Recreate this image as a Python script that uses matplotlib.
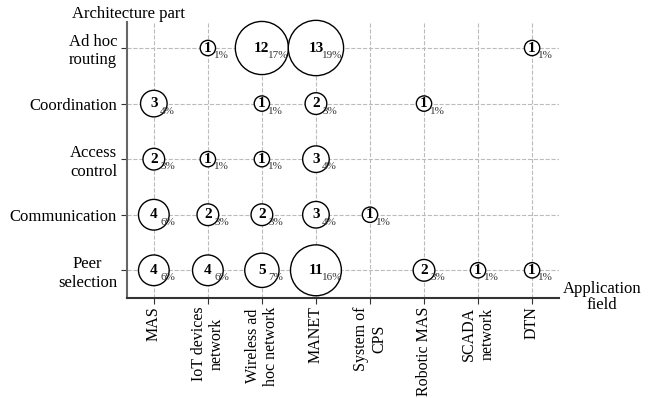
import matplotlib
matplotlib.use("Agg")
import matplotlib.pyplot as plt
import numpy as np

plt.rcParams['font.family'] = ['Liberation Serif', 'DejaVu Serif']

fields = ["MAS", "IoT devices\nnetwork", "Wireless ad\nhoc network", "MANET",
          "System of\nCPS", "Robotic MAS", "SCADA\nnetwork", "DTN"]
parts = ["Peer\nselection", "Communication", "Access\ncontrol", "Coordination",
         "Ad hoc\nrouting"]

# rows follow parts (bottom to top), columns follow fields
counts = [
    [4, 4, 5, 11, 0, 2, 1, 1],
    [4, 2, 2, 3, 1, 0, 0, 0],
    [2, 1, 1, 3, 0, 0, 0, 0],
    [3, 0, 1, 2, 0, 1, 0, 0],
    [0, 1, 12, 13, 0, 0, 0, 1],
]
percents = [
    [6, 6, 7, 16, 0, 3, 1, 1],
    [6, 3, 3, 4, 1, 0, 0, 0],
    [3, 1, 1, 4, 0, 0, 0, 0],
    [4, 0, 1, 3, 0, 1, 0, 0],
    [0, 1, 17, 19, 0, 0, 0, 1],
]

fig = plt.figure(figsize=(6.57, 3.98), dpi=100)
ax = fig.add_axes([0.193, 0.251, 0.658, 0.694])

xs, ys, ss = [], [], []
for i in range(len(parts)):
    for j in range(len(fields)):
        n = counts[i][j]
        if n == 0:
            continue
        xs.append(j)
        ys.append(i)
        ss.append(122 * n)
ax.scatter(xs, ys, s=ss, facecolor='white', edgecolor='black', linewidth=1.0,
           zorder=3, clip_on=False)

for i in range(len(parts)):
    for j in range(len(fields)):
        n = counts[i][j]
        if n == 0:
            continue
        ax.text(j, i, str(n), ha='center', va='center', fontsize=11,
                fontweight='bold', zorder=4)
        ax.annotate("%d%%" % percents[i][j], (j, i), xytext=(4.5, -5.5),
                    textcoords='offset points', ha='left', va='center',
                    fontsize=8, color='#333333', zorder=4)

ax.set_xlim(-0.5, 7.5)
ax.set_ylim(-0.5, 4.47)
ax.set_xticks(range(len(fields)))
ax.set_xticklabels(fields, rotation=90, va='top', ha='center',
                   multialignment='center', fontsize=11.5)
ax.set_yticks(range(len(parts)))
ax.set_yticklabels(parts, fontsize=12, multialignment='center')

ax.grid(True, linestyle='--', color='#bbbbbb', linewidth=0.8, zorder=0)
ax.set_axisbelow(True)
for side in ['top', 'right']:
    ax.spines[side].set_visible(False)
ax.spines['left'].set_color('#666666')
ax.spines['bottom'].set_color('#333333')
for side in ['left', 'bottom']:
    ax.spines[side].set_linewidth(1.5)
ax.tick_params(length=4, width=0.8, color='#333333')
ax.tick_params(axis='x', pad=2)
ax.tick_params(axis='y', pad=3)

fig.text(72 / 657, 1 - 14 / 398, "Architecture part", fontsize=12,
         ha='left', va='center')
fig.text(602 / 657, 1 - 297 / 398, "Application\nfield", fontsize=12,
         ha='center', va='center', multialignment='center', linespacing=1.0)

fig.savefig("out.png", dpi=100)
